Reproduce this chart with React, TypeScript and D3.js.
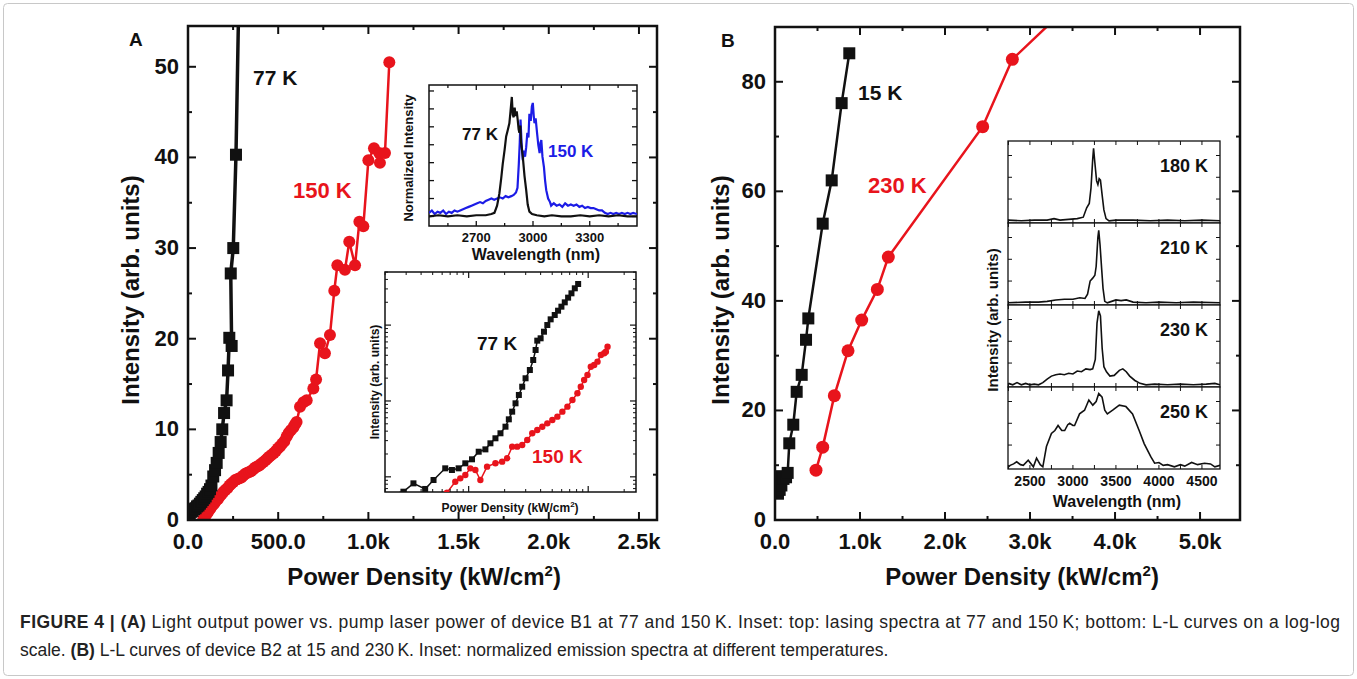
import React from 'react';
import * as d3 from 'd3';

const W = 1357;
const H = 679;
const FONT = 'Arial, "Liberation Sans", Helvetica, sans-serif';
const INK = '#111';
const RED = '#e8141c';
const BLUE = '#1c1ce6';

type Pt = [number, number];

// ---------- Panel A: device B1, power density (kW/cm2) vs intensity (arb. units)
const b1At77K: Pt[] = [
  [10, 0.6], [18, 0.9], [26, 1.0], [34, 1.2], [42, 1.3], [50, 1.5], [58, 1.6], [66, 1.8],
  [74, 2.0], [82, 2.2], [90, 2.4], [98, 2.6], [106, 2.9], [114, 3.1], [122, 3.4], [130, 3.8],
  [140, 4.8], [150, 5.5], [159, 6.3], [170, 7.4], [181, 8.6], [190, 10.0], [200, 11.8],
  [214, 13.2], [222, 16.5], [229, 20.1], [242, 19.2], [237, 27.2], [251, 30.0], [266, 40.3],
  [293, 70],
];
const b1At150K: Pt[] = [
  [85, 0.1], [95, 0.4], [105, 0.7], [115, 1.0], [125, 1.3], [135, 1.6], [145, 1.8], [155, 2.1],
  [165, 2.3], [175, 2.6], [185, 2.8], [196, 3.1], [207, 3.3], [218, 3.5], [230, 3.8], [240, 4.0],
  [251, 4.2], [262, 4.4], [273, 4.5], [285, 4.6], [296, 4.7], [307, 4.9], [318, 5.1], [329, 5.2],
  [340, 5.3], [351, 5.4], [362, 5.6], [373, 5.8], [384, 5.9], [395, 6.0], [406, 6.2], [418, 6.4],
  [430, 6.6], [441, 6.8], [452, 7.0], [464, 7.2], [476, 7.4], [487, 7.6], [498, 7.9], [510, 8.1],
  [522, 8.4], [534, 8.7], [547, 9.2], [558, 9.6], [570, 9.9], [584, 10.2], [592, 10.5], [602, 10.8],
  [621, 12.5], [640, 13.0], [658, 13.2], [695, 14.5], [710, 15.5], [732, 19.5], [759, 18.4],
  [787, 20.4], [811, 25.3], [828, 28.1], [870, 27.6], [894, 30.7], [926, 28.1], [950, 32.9],
  [972, 32.4], [1000, 39.7], [1031, 41.0], [1064, 39.4], [1060, 40.5], [1092, 40.5], [1116, 50.5],
];
const aXTicks = [0, 500, 1000, 1500, 2000, 2500];
const aXLabels = ['0.0', '500.0', '1.0k', '1.5k', '2.0k', '2.5k'];
const aYTicks = [0, 10, 20, 30, 40, 50];

// inset A (top): lasing spectra, wavelength (nm) vs normalized intensity
const spectrum77K: Pt[] = [
  [2450, 0.0], [2500, 0.01], [2550, 0.0], [2600, 0.01], [2650, 0.0], [2700, 0.01], [2750, 0.01],
  [2780, 0.02], [2796, 0.03], [2810, 0.09], [2822, 0.19], [2832, 0.32], [2840, 0.44], [2850, 0.56],
  [2858, 0.67], [2866, 0.72], [2875, 0.78], [2880, 0.86], [2888, 1.0], [2893, 0.85], [2898, 0.83],
  [2903, 0.91], [2908, 0.84], [2914, 0.88], [2919, 0.81], [2924, 0.73], [2928, 0.7], [2933, 0.76],
  [2937, 0.62], [2946, 0.5], [2955, 0.34], [2964, 0.22], [2972, 0.1], [2981, 0.04], [2995, 0.02],
  [3020, 0.01], [3060, 0.0], [3100, 0.01], [3150, 0.0], [3200, 0.0], [3250, 0.01], [3300, 0.0],
  [3350, 0.01], [3400, 0.0], [3450, 0.01], [3500, 0.0], [3550, 0.0],
];
const spectrum150K: Pt[] = [
  [2450, 0.03], [2465, 0.05], [2480, 0.02], [2495, 0.04], [2510, 0.03], [2525, 0.05], [2540, 0.02],
  [2555, 0.04], [2570, 0.03], [2585, 0.05], [2600, 0.04], [2615, 0.05], [2630, 0.06], [2645, 0.07],
  [2660, 0.08], [2675, 0.09], [2690, 0.1], [2705, 0.11], [2720, 0.12], [2735, 0.11], [2750, 0.13],
  [2765, 0.14], [2780, 0.15], [2795, 0.14], [2810, 0.15], [2825, 0.16], [2840, 0.15], [2855, 0.17],
  [2870, 0.16], [2885, 0.17], [2898, 0.18], [2910, 0.2], [2918, 0.24], [2925, 0.44], [2930, 0.62],
  [2934, 0.81], [2940, 0.6], [2946, 0.47], [2952, 0.55], [2958, 0.5], [2964, 0.58], [2970, 0.7],
  [2976, 0.66], [2981, 0.86], [2988, 0.8], [2994, 0.92], [2999, 0.95], [3004, 0.84], [3008, 0.78],
  [3014, 0.82], [3022, 0.69], [3028, 0.6], [3035, 0.53], [3040, 0.62], [3044, 0.64], [3050, 0.5],
  [3058, 0.41], [3064, 0.3], [3070, 0.22], [3080, 0.15], [3090, 0.12], [3096, 0.09], [3110, 0.11],
  [3125, 0.09], [3140, 0.1], [3155, 0.08], [3170, 0.11], [3185, 0.09], [3200, 0.1], [3215, 0.09],
  [3230, 0.1], [3245, 0.08], [3260, 0.09], [3275, 0.07], [3290, 0.08], [3305, 0.07], [3320, 0.07],
  [3335, 0.06], [3350, 0.05], [3365, 0.05], [3380, 0.03], [3395, 0.02], [3410, 0.03], [3425, 0.02],
  [3440, 0.03], [3455, 0.02], [3470, 0.03], [3485, 0.02], [3500, 0.03], [3515, 0.02], [3530, 0.03],
  [3550, 0.02],
];
const specATicks = [2700, 3000, 3300];

// inset A (bottom): L-L curves on log-log axes, stored as log10 values
const logLL77K: Pt[] = [
  [1.30, -0.25], [1.454, -0.196], [1.538, -0.086], [1.636, -0.16], [1.706, -0.042], [1.804, 0.112],
  [1.86, 0.09], [1.916, 0.112], [1.972, 0.178], [2.028, 0.231], [2.084, 0.331], [2.14, 0.362],
  [2.182, 0.442], [2.224, 0.508], [2.266, 0.574], [2.308, 0.661], [2.336, 0.758], [2.364, 0.859],
  [2.392, 0.969], [2.42, 1.079], [2.448, 1.188], [2.476, 1.299], [2.512, 1.408], [2.54, 1.54],
  [2.56, 1.672], [2.574, 1.795], [2.602, 1.826], [2.63, 1.913], [2.658, 2.001], [2.686, 2.076],
  [2.72, 2.133], [2.748, 2.19], [2.776, 2.243], [2.804, 2.3], [2.832, 2.362], [2.86, 2.419],
  [2.888, 2.485], [2.916, 2.542],
];
const logLL150K: Pt[] = [
  [1.818, -0.209], [1.888, -0.064], [1.93, -0.02], [1.972, 0.024], [2.014, 0.112], [2.056, 0.09],
  [2.098, -0.042], [2.154, 0.134], [2.224, 0.178], [2.28, 0.2], [2.322, 0.244], [2.364, 0.398],
  [2.406, 0.398], [2.448, 0.42], [2.49, 0.485], [2.532, 0.574], [2.574, 0.617], [2.616, 0.661],
  [2.658, 0.705], [2.7, 0.749], [2.742, 0.793], [2.784, 0.859], [2.826, 0.925], [2.868, 1.013],
  [2.91, 1.101], [2.938, 1.188], [2.966, 1.276], [2.994, 1.342], [3.022, 1.452], [3.05, 1.474],
  [3.078, 1.518], [3.106, 1.606], [3.134, 1.628], [3.148, 1.65], [3.162, 1.715],
];

// ---------- Panel B: device B2
const b2At15K: Pt[] = [
  [25, 8.0], [35, 4.8], [55, 5.5], [75, 6.3], [100, 7.5], [130, 7.8], [149, 8.6], [168, 14.0],
  [215, 17.4], [255, 23.4], [314, 26.5], [365, 32.9], [392, 36.8], [561, 54.1], [667, 62.0],
  [784, 76.1], [874, 85.2],
];
const b2At230K: Pt[] = [
  [482, 9.1], [561, 13.3], [698, 22.7], [859, 30.9], [1020, 36.5], [1204, 42.1], [1333, 48.0],
  [2443, 71.8], [2792, 84.1], [3600, 96],
];
const bXTicks = [0, 1000, 2000, 3000, 4000, 5000];
const bXLabels = ['0.0', '1.0k', '2.0k', '3.0k', '4.0k', '5.0k'];
const bYTicks = [0, 20, 40, 60, 80];

// inset B: emission spectra at several temperatures
const tempLabels = ['180 K', '210 K', '230 K', '250 K'];
const spec180K: Pt[] = [
  [2250, 0.01], [2400, 0.0], [2550, 0.01], [2700, 0.01], [2780, 0.03], [2850, 0.01], [2950, 0.02],
  [3050, 0.03], [3120, 0.05], [3160, 0.18], [3190, 0.24], [3210, 0.45], [3230, 0.85], [3240, 1.0],
  [3255, 0.8], [3275, 0.55], [3290, 0.5], [3305, 0.58], [3320, 0.56], [3340, 0.35], [3360, 0.15],
  [3385, 0.03], [3420, 0.0], [3500, 0.01], [3700, 0.01], [3900, 0.0], [4100, 0.01], [4300, 0.0],
  [4500, 0.01], [4710, 0.0],
];
const spec210K: Pt[] = [
  [2250, 0.0], [2450, 0.01], [2600, 0.01], [2700, 0.02], [2800, 0.04], [2900, 0.05], [3000, 0.05],
  [3080, 0.07], [3140, 0.06], [3170, 0.12], [3200, 0.3], [3230, 0.34], [3255, 0.38], [3270, 0.5],
  [3290, 0.9], [3300, 1.0], [3315, 0.8], [3335, 0.45], [3350, 0.2], [3370, 0.02], [3400, 0.0],
  [3450, 0.02], [3500, 0.04], [3560, 0.03], [3620, 0.04], [3700, 0.01], [3850, 0.0], [4000, 0.01],
  [4200, 0.0], [4400, 0.01], [4710, 0.0],
];
const spec230K: Pt[] = [
  [2250, 0.02], [2300, 0.0], [2350, 0.03], [2400, 0.0], [2450, 0.02], [2500, 0.0], [2550, 0.01],
  [2600, 0.0], [2650, 0.03], [2700, 0.08], [2750, 0.12], [2800, 0.14], [2850, 0.15], [2900, 0.14],
  [2950, 0.16], [3000, 0.15], [3050, 0.19], [3100, 0.18], [3150, 0.22], [3200, 0.21], [3230, 0.22],
  [3260, 0.35], [3280, 0.85], [3300, 1.02], [3320, 0.95], [3340, 0.5], [3360, 0.25], [3390, 0.18],
  [3430, 0.12], [3480, 0.13], [3540, 0.2], [3580, 0.22], [3620, 0.18], [3660, 0.12], [3720, 0.06],
  [3780, 0.02], [3850, 0.0], [3950, 0.01], [4100, 0.0], [4250, 0.01], [4400, 0.0], [4550, 0.01],
  [4650, 0.02], [4710, 0.0],
];
const spec250K: Pt[] = [
  [2250, 0.0], [2270, 0.02], [2310, 0.04], [2346, 0.07], [2390, 0.03], [2423, 0.02], [2480, 0.09],
  [2540, 0.0], [2577, 0.12], [2620, 0.03], [2650, 0.0], [2692, 0.28], [2750, 0.46], [2790, 0.5],
  [2827, 0.57], [2870, 0.5], [2904, 0.5], [2940, 0.58], [2962, 0.6], [3000, 0.57], [3019, 0.57],
  [3077, 0.73], [3135, 0.78], [3185, 0.92], [3231, 0.85], [3270, 0.9], [3300, 1.01], [3339, 0.96],
  [3370, 0.78], [3400, 0.73], [3462, 0.78], [3539, 0.85], [3616, 0.83], [3693, 0.73], [3770, 0.5],
  [3828, 0.32], [3905, 0.14], [3950, 0.05], [4000, 0.06], [4050, 0.02], [4100, 0.03], [4180, 0.0],
  [4250, 0.03], [4300, 0.01], [4380, 0.06], [4450, 0.03], [4530, 0.05], [4600, 0.04], [4650, 0.0],
  [4710, 0.02],
];
const bSpecTicks = [2500, 3000, 3500, 4000, 4500];

// ---------- scales
const xA = d3.scaleLinear().domain([0, 2600]).range([188, 657]);
const yA = d3.scaleLinear().domain([0, 54.5]).range([520, 26]);
const xAs = d3.scaleLinear().domain([2450, 3550]).range([429, 637]);
const yAs = d3.scaleLinear().domain([-0.08, 1.1]).range([226, 85]);
const xAl = d3.scaleLinear().domain([1.3, 3.4]).range([385, 636]);
const yAl = d3.scaleLinear().domain([-0.2, 2.7]).range([492, 272]);
const xB = d3.scaleLinear().domain([0, 5470]).range([775, 1240]);
const yB = d3.scaleLinear().domain([0, 90]).range([520, 27]);
const xBs = d3.scaleLinear().domain([2245, 4710]).range([1008, 1220]);
const bandTop = (i: number) => 141 + i * 82;
const yBand = (i: number) => d3.scaleLinear().domain([-0.03, 1.1]).range([bandTop(i) + 82, bandTop(i)]);

type S = d3.ScaleLinear<number, number>;

function Ticks({ x, y, xs, ys, len, sw = 1.5, top = true, right = true, bottom = true, left = true }: {
  x: S; y: S; xs: number[]; ys: number[]; len: number; sw?: number;
  top?: boolean; right?: boolean; bottom?: boolean; left?: boolean;
}) {
  const [x0, x1] = x.range();
  const [y0, y1] = y.range();
  const xd = x.domain();
  const yd = y.domain();
  const xv = xs.filter(v => v >= Math.min(...xd) && v <= Math.max(...xd));
  const yv = ys.filter(v => v >= Math.min(...yd) && v <= Math.max(...yd));
  return (
    <g stroke={INK} strokeWidth={sw}>
      {xv.map((v, i) => (
        <g key={'x' + i}>
          {bottom && <line x1={x(v)} x2={x(v)} y1={y0} y2={y0 - len} />}
          {top && <line x1={x(v)} x2={x(v)} y1={y1} y2={y1 + len} />}
        </g>
      ))}
      {yv.map((v, i) => (
        <g key={'y' + i}>
          {left && <line x1={x0} x2={x0 + len} y1={y(v)} y2={y(v)} />}
          {right && <line x1={x1} x2={x1 - len} y1={y(v)} y2={y(v)} />}
        </g>
      ))}
    </g>
  );
}

function Frame({ x, y, sw, fill = 'none' }: { x: S; y: S; sw: number; fill?: string }) {
  const [x0, x1] = x.range();
  const [y0, y1] = y.range();
  return <rect x={x0} y={y1} width={x1 - x0} height={y0 - y1} fill={fill} stroke={INK} strokeWidth={sw} />;
}

function Clip({ id, x, y }: { id: string; x: S; y: S }) {
  const [x0, x1] = x.range();
  const [y0, y1] = y.range();
  return (
    <clipPath id={id}>
      <rect x={x0} y={y1} width={x1 - x0} height={y0 - y1} />
    </clipPath>
  );
}

const mkLine = (x: S, y: S) => d3.line<Pt>().x(d => x(d[0])).y(d => y(d[1]));

function Squares({ data, x, y, size, color }: { data: Pt[]; x: S; y: S; size: number; color: string }) {
  return (
    <g fill={color}>
      {data.map((d, i) => (
        <rect key={i} x={x(d[0]) - size / 2} y={y(d[1]) - size / 2} width={size} height={size} />
      ))}
    </g>
  );
}

function Dots({ data, x, y, r, color }: { data: Pt[]; x: S; y: S; r: number; color: string }) {
  return (
    <g fill={color}>
      {data.map((d, i) => (
        <circle key={i} cx={x(d[0])} cy={y(d[1])} r={r} />
      ))}
    </g>
  );
}

function PowerTitle({ x, y, size, supSize, anchor = 'middle' }: { x: number; y: number; size: number; supSize: number; anchor?: string }) {
  return (
    <text x={x} y={y} fontSize={size} fontWeight="bold" textAnchor={anchor} fill={INK}>
      Power Density (kW/cm<tspan dy={-size * 0.38} fontSize={supSize}>2</tspan>
      <tspan dy={size * 0.38}>)</tspan>
    </text>
  );
}

const logMinor = (lo: number, hi: number) => {
  const out: number[] = [];
  for (let n = Math.floor(lo); n <= Math.ceil(hi); n++) {
    for (let k = 2; k <= 9; k++) out.push(n + Math.log10(k));
  }
  return out;
};

export default function App() {
  const lA = mkLine(xA, yA);
  const lAs = mkLine(xAs, yAs);
  const lAl = mkLine(xAl, yAl);
  const lB = mkLine(xB, yB);
  const bandSpectra = [spec180K, spec210K, spec230K, spec250K];

  return (
    <div style={{ position: 'absolute', left: 0, top: 0 }}>
      <svg width={W} height={H} fontFamily={FONT} style={{ display: 'block', background: '#fff' }}>
        <defs>
          <Clip id="clipA" x={xA} y={yA} />
          <Clip id="clipAs" x={xAs} y={yAs} />
          <Clip id="clipAl" x={xAl} y={yAl} />
          <Clip id="clipB" x={xB} y={yB} />
          {[0, 1, 2, 3].map(i => <Clip key={i} id={'clipBand' + i} x={xBs} y={yBand(i)} />)}
        </defs>
        <rect x={3.5} y={3.5} width={W - 7} height={H - 7} rx={4} fill="#fff" stroke="#c8c8c8" strokeWidth={1} />

        {/* ================= Panel A ================= */}
        <text x={129} y={46} fontSize={19} fontWeight="bold" fill={INK}>A</text>
        <g clipPath="url(#clipA)">
          <path d={lA(b1At150K) || ''} fill="none" stroke={RED} strokeWidth={2.5} />
          <Dots data={b1At150K} x={xA} y={yA} r={6} color={RED} />
          <path d={lA(b1At77K) || ''} fill="none" stroke={INK} strokeWidth={3.5} />
          <Squares data={b1At77K} x={xA} y={yA} size={12} color={INK} />
        </g>
        <Ticks x={xA} y={yA} xs={aXTicks} ys={aYTicks} len={8} sw={2} />
        <Ticks x={xA} y={yA} xs={d3.range(250, 2600, 500)} ys={d3.range(5, 55, 10)} len={4} sw={2} />
        <Frame x={xA} y={yA} sw={2.5} />
        <g fontSize={22} fontWeight="bold" fill={INK}>
          {aXTicks.map((v, i) => (
            <text key={v} x={xA(v)} y={549} textAnchor="middle">{aXLabels[i]}</text>
          ))}
          {aYTicks.map(v => (
            <text key={v} x={179} y={yA(v) + 7} textAnchor="end">{v}</text>
          ))}
        </g>
        <text transform="translate(139,290) rotate(-90)" fontSize={24} fontWeight="bold" textAnchor="middle" fill={INK}>
          Intensity (arb. units)
        </text>
        <PowerTitle x={424} y={585} size={24} supSize={15} />
        <text x={253} y={85} fontSize={21} fontWeight="bold" fill={INK}>77 K</text>
        <text x={293} y={198} fontSize={22} fontWeight="bold" fill={RED}>150 K</text>

        {/* inset A top: spectra */}
        <Frame x={xAs} y={yAs} sw={1.5} fill="#fff" />
        <g clipPath="url(#clipAs)">
          <path d={lAs(spectrum150K) || ''} fill="none" stroke={BLUE} strokeWidth={2.2} />
          <path d={lAs(spectrum77K) || ''} fill="none" stroke={INK} strokeWidth={2.2} />
        </g>
        <Ticks x={xAs} y={yAs} xs={specATicks} ys={d3.range(0, 1.1, 0.15)} len={5} sw={1.3} />
        <Ticks x={xAs} y={yAs} xs={d3.range(2550, 3550, 300)} ys={[]} len={3} sw={1.3} />
        <g fontSize={13} fontWeight="bold" fill={INK}>
          {specATicks.map(v => (
            <text key={v} x={xAs(v)} y={242} textAnchor="middle">{v}</text>
          ))}
        </g>
        <text x={536} y={260} fontSize={16} fontWeight="bold" textAnchor="middle" fill={INK}>Wavelength (nm)</text>
        <text transform="translate(413,158) rotate(-90)" fontSize={13} fontWeight="bold" textAnchor="middle" fill={INK}>
          Normalized Intensity
        </text>
        <text x={462} y={140} fontSize={17} fontWeight="bold" fill={INK}>77 K</text>
        <text x={548} y={157} fontSize={17} fontWeight="bold" fill={BLUE}>150 K</text>

        {/* inset A bottom: log-log */}
        <Frame x={xAl} y={yAl} sw={1.5} fill="#fff" />
        <g clipPath="url(#clipAl)">
          <path d={lAl(logLL150K) || ''} fill="none" stroke={RED} strokeWidth={1.5} />
          <Dots data={logLL150K} x={xAl} y={yAl} r={3.2} color={RED} />
          <path d={lAl(logLL77K) || ''} fill="none" stroke={INK} strokeWidth={1.5} />
          <Squares data={logLL77K} x={xAl} y={yAl} size={6} color={INK} />
        </g>
        <Ticks x={xAl} y={yAl} xs={[2, 3]} ys={[0, 1, 2]} len={6} sw={1.2} />
        <Ticks x={xAl} y={yAl} xs={logMinor(1.3, 3.4)} ys={logMinor(-0.2, 2.7)} len={3} sw={1} />
        <PowerTitle x={510} y={512} size={12} supSize={8} />
        <text transform="translate(379,382) rotate(-90)" fontSize={12} fontWeight="bold" textAnchor="middle" fill={INK}>
          Intensity (arb. units)
        </text>
        <text x={477} y={350} fontSize={19} fontWeight="bold" fill={INK}>77 K</text>
        <text x={532} y={463} fontSize={19} fontWeight="bold" fill={RED}>150 K</text>

        {/* ================= Panel B ================= */}
        <text x={721} y={47} fontSize={19} fontWeight="bold" fill={INK}>B</text>
        <g clipPath="url(#clipB)">
          <path d={lB(b2At230K) || ''} fill="none" stroke={RED} strokeWidth={2.5} />
          <Dots data={b2At230K} x={xB} y={yB} r={6.5} color={RED} />
          <path d={lB(b2At15K) || ''} fill="none" stroke={INK} strokeWidth={2.5} />
          <Squares data={b2At15K} x={xB} y={yB} size={12} color={INK} />
        </g>
        <Ticks x={xB} y={yB} xs={bXTicks} ys={bYTicks} len={8} sw={2} />
        <Ticks x={xB} y={yB} xs={d3.range(500, 5470, 1000)} ys={d3.range(10, 90, 20)} len={4} sw={2} />
        <Frame x={xB} y={yB} sw={2.5} />
        <g fontSize={22} fontWeight="bold" fill={INK}>
          {bXTicks.map((v, i) => (
            <text key={v} x={xB(v)} y={549} textAnchor="middle">{bXLabels[i]}</text>
          ))}
          {bYTicks.map(v => (
            <text key={v} x={766} y={yB(v) + 7} textAnchor="end">{v}</text>
          ))}
        </g>
        <text transform="translate(729,290) rotate(-90)" fontSize={24} fontWeight="bold" textAnchor="middle" fill={INK}>
          Intensity (arb. units)
        </text>
        <PowerTitle x={1022} y={585} size={24} supSize={15} />
        <text x={858} y={100} fontSize={21} fontWeight="bold" fill={INK}>15 K</text>
        <text x={868} y={193} fontSize={22} fontWeight="bold" fill={RED}>230 K</text>

        {/* inset B: stacked spectra */}
        {bandSpectra.map((s, i) => {
          const yb = yBand(i);
          const lb = mkLine(xBs, yb);
          return (
            <g key={i}>
              <Frame x={xBs} y={yb} sw={1.3} fill="#fff" />
              <g clipPath={`url(#clipBand${i})`}>
                <path d={lb(s) || ''} fill="none" stroke={INK} strokeWidth={1.6} />
              </g>
              <Ticks x={xBs} y={yb} xs={d3.range(2250, 4710, 250)} ys={[0.3, 0.6, 0.9]} len={4} sw={1} />
              <text x={1208} y={bandTop(i) + 31} fontSize={18} fontWeight="bold" textAnchor="end" fill={INK}>
                {tempLabels[i]}
              </text>
            </g>
          );
        })}
        <g fontSize={14} fontWeight="bold" fill={INK}>
          {bSpecTicks.map(v => (
            <text key={v} x={xBs(v)} y={486} textAnchor="middle">{v}</text>
          ))}
        </g>
        <text x={1117} y={507} fontSize={16} fontWeight="bold" textAnchor="middle" fill={INK}>Wavelength (nm)</text>
        <text transform="translate(998,320) rotate(-90)" fontSize={15} fontWeight="bold" textAnchor="middle" fill={INK}>
          Intensity (arb. units)
        </text>

        {/* ================= caption ================= */}
        <g fontSize={17.5} fill="#222">
          <text x={20} y={628} textLength={1320} lengthAdjust="spacing">
            <tspan fontWeight="bold">FIGURE 4 | (A)</tspan> Light output power vs. pump laser power of device B1 at 77 and 150{'\u2009'}K. Inset: top: lasing spectra at 77 and 150{'\u2009'}K; bottom: L-L curves on a log-log
          </text>
          <text x={20} y={656}>
            scale. <tspan fontWeight="bold">(B)</tspan> L-L curves of device B2 at 15 and 230{'\u2009'}K. Inset: normalized emission spectra at different temperatures.
          </text>
        </g>
      </svg>
    </div>
  );
}
